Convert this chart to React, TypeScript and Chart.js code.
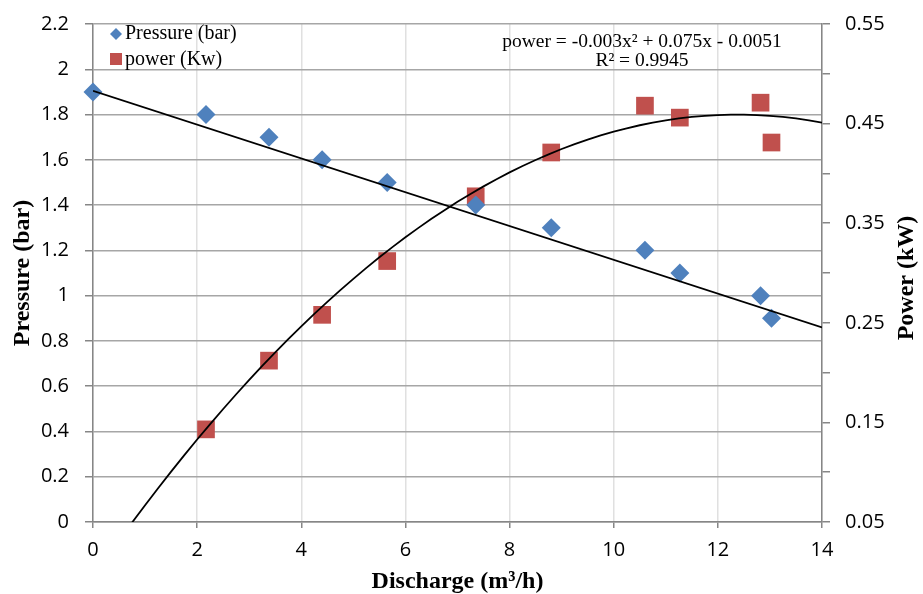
import React, { useEffect, useRef } from "react";
import { Chart, registerables } from "chart.js";

Chart.register(...registerables);

const discharge = [0, 2.17, 3.38, 4.4, 5.65, 7.35, 8.8, 10.6, 11.27, 12.82, 13.03];
const pressure = [1.9, 1.8, 1.7, 1.6, 1.5, 1.4, 1.3, 1.2, 1.1, 1.0, 0.9];
const powerDischarge = [2.17, 3.38, 4.4, 5.65, 7.35, 8.8, 10.6, 11.27, 12.82, 13.03];
const power = [0.143, 0.212, 0.258, 0.312, 0.377, 0.421, 0.468, 0.456, 0.471, 0.431];
// linear trendline of pressure (end points)
const pressureTrendX = [0, 14];
const pressureTrendY = [1.905, 0.86];
// polynomial trendline coefficients (a x^2 + b x + c), displayed rounded as -0.003 / 0.075 / -0.0051
const powerFit = [-0.00303, 0.075, -0.0051];
const xTicks = [0, 2, 4, 6, 8, 10, 12, 14];
const equationText = "power = -0.003x² + 0.075x - 0.0051";
const r2Text = "R² = 0.9945";
const seriesNames = ["Pressure (bar)", "power (Kw)"];
const xTitle = "Discharge (m³/h)";
const yTitle = "Pressure (bar)";
const y2Title = "Power (kW)";

const BLUE = "#4F81BD";
const RED = "#C0504D";
const TICK_FONT = { family: "'Open Sans', sans-serif", size: 20 };

export default function App() {
  const ref = useRef<HTMLCanvasElement | null>(null);
  useEffect(() => {
    const canvas = ref.current;
    if (!canvas) return;
    const fitPts: { x: number; y: number }[] = [];
    for (let i = 0; i <= 56; i++) {
      const x = i * 0.25;
      fitPts.push({ x, y: powerFit[0] * x * x + powerFit[1] * x + powerFit[2] });
    }
    const overlay = {
      id: "overlay",
      afterDraw(chart: any) {
        const ctx = chart.ctx;
        const ca = chart.chartArea;
        ctx.save();
        // legend
        ctx.fillStyle = BLUE;
        ctx.beginPath();
        ctx.moveTo(116, 28);
        ctx.lineTo(122, 34);
        ctx.lineTo(116, 40);
        ctx.lineTo(110, 34);
        ctx.closePath();
        ctx.fill();
        ctx.fillStyle = RED;
        ctx.fillRect(110, 53, 12, 12);
        ctx.fillStyle = "#000";
        ctx.font = "20px 'Liberation Serif', serif";
        ctx.textAlign = "left";
        ctx.textBaseline = "middle";
        ctx.fillText(seriesNames[0], 125, 34);
        ctx.fillText(seriesNames[1], 125, 60);
        // equation
        ctx.font = "19.5px 'Liberation Serif', serif";
        ctx.textAlign = "center";
        ctx.fillText(equationText, 642, 42);
        ctx.fillText(r2Text, 642, 61);
        // axis titles
        ctx.font = "bold 24px 'Liberation Serif', serif";
        ctx.fillText(xTitle, (ca.left + ca.right) / 2, 582);
        ctx.save();
        ctx.translate(23, 273);
        ctx.rotate(-Math.PI / 2);
        ctx.fillText(yTitle, 0, 0);
        ctx.restore();
        ctx.save();
        ctx.translate(907, 278);
        ctx.rotate(-Math.PI / 2);
        ctx.fillText(y2Title, 0, 0);
        ctx.restore();
        ctx.restore();
      },
    };
    const chart = new Chart(canvas, {
      type: "scatter",
      data: {
        datasets: [
          {
            type: "line",
            data: pressureTrendX.map((x, i) => ({ x, y: pressureTrendY[i] })),
            borderColor: "#000",
            borderWidth: 1.8,
            pointRadius: 0,
            yAxisID: "y",
            order: 0,
          },
          {
            type: "line",
            data: fitPts,
            borderColor: "#000",
            borderWidth: 1.8,
            pointRadius: 0,
            yAxisID: "y2",
            order: 0,
          },
          {
            label: seriesNames[0],
            data: discharge.map((x, i) => ({ x, y: pressure[i] })),
            backgroundColor: BLUE,
            borderColor: BLUE,
            pointStyle: "rectRot",
            pointRadius: 9.5,
            pointBorderWidth: 0,
            yAxisID: "y",
            order: 1,
            clip: false,
          },
          {
            label: seriesNames[1],
            data: powerDischarge.map((x, i) => ({ x, y: power[i] })),
            backgroundColor: RED,
            borderColor: RED,
            pointStyle: "rect",
            pointRadius: 12.5,
            pointBorderWidth: 0,
            yAxisID: "y2",
            order: 1,
            clip: false,
          },
        ],
      },
      options: {
        animation: false,
        responsive: false,
        maintainAspectRatio: false,
        layout: { padding: { top: 24, left: 0, right: 0, bottom: 0 } },
        plugins: { legend: { display: false }, tooltip: { enabled: false } },
        scales: {
          x: {
            type: "linear",
            min: 0,
            max: 14,
            afterBuildTicks: (s: any) => {
              s.ticks = xTicks.map((v) => ({ value: v }));
            },
            afterFit: (s: any) => {
              s.height = 72;
            },
            ticks: { font: TICK_FONT, color: "#000", padding: 10, autoSkip: false, maxRotation: 0 },
            grid: { color: "#e0e0e0", lineWidth: 1.5, tickColor: "#868686", tickLength: 6 },
            border: { color: "#868686", width: 1.5 },
          },
          y: {
            type: "linear",
            position: "left",
            min: 0,
            max: 2.2,
            ticks: {
              stepSize: 0.2,
              font: TICK_FONT,
              color: "#000",
              padding: 16,
              autoSkip: false,
              callback: (v: any) => String(Number(Number(v).toFixed(1))),
            },
            afterFit: (s: any) => {
              s.width = 93;
              s.paddingTop = 0;
              s.paddingBottom = 0;
            },
            grid: { color: "#a6a6a6", lineWidth: 1.5, tickColor: "#868686", tickLength: 8 },
            border: { color: "#868686", width: 1.5 },
          },
          y2: {
            type: "linear",
            position: "right",
            min: 0.05,
            max: 0.55,
            ticks: {
              stepSize: 0.05,
              font: TICK_FONT,
              color: "#000",
              padding: 15,
              autoSkip: false,
              callback: (v: any) => (Math.round(Number(v) * 100) % 10 === 5 ? Number(v).toFixed(2) : ""),
            },
            afterFit: (s: any) => {
              s.width = 101;
              s.paddingTop = 0;
              s.paddingBottom = 0;
            },
            grid: { drawOnChartArea: false, tickColor: "#868686", tickLength: 8, lineWidth: 1.5 },
            border: { color: "#868686", width: 1.5 },
          },
        },
      },
      plugins: [overlay],
    } as any);
    return () => chart.destroy();
  }, []);
  return (
    <div style={{ position: "absolute", left: 0, top: 0, width: 923, height: 594, background: "#fff" }}>
      <canvas ref={ref} width={923} height={594} style={{ display: "block" }} />
    </div>
  );
}
